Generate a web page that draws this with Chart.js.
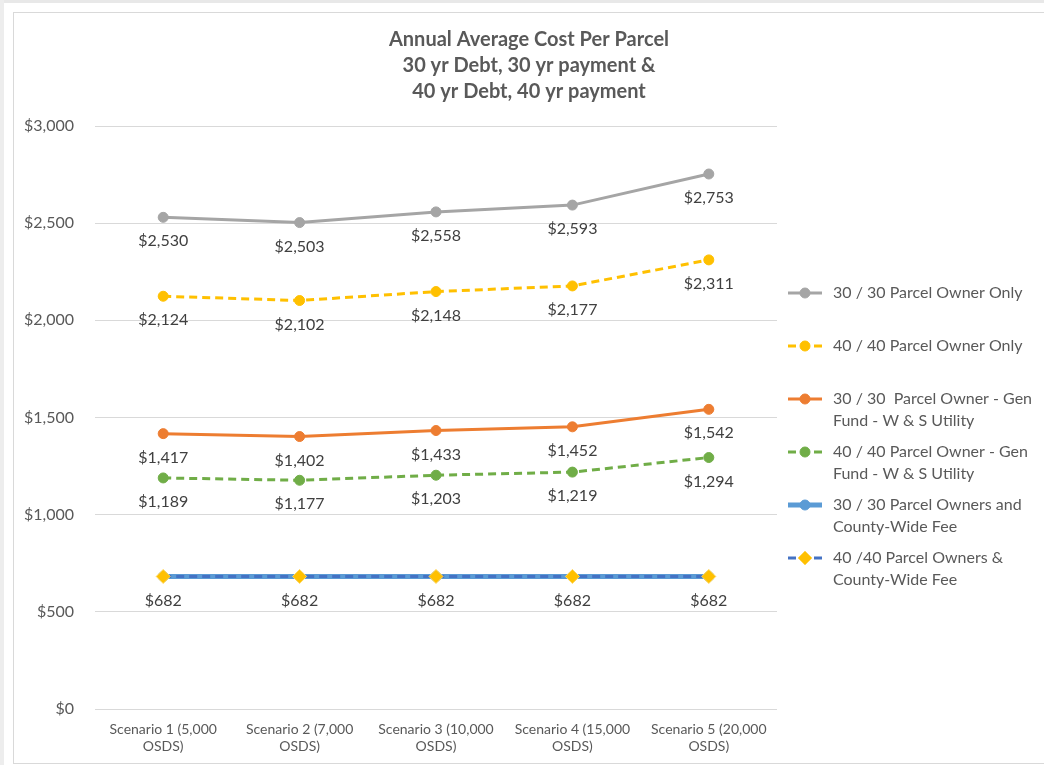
<!DOCTYPE html>
<html>
<head>
<meta charset="utf-8">
<title>Annual Average Cost Per Parcel</title>
<script src="https://cdn.jsdelivr.net/npm/chart.js@4.4.1/dist/chart.umd.min.js"></script>
<style>
    html, body { margin: 0; padding: 0; background: #fff; overflow: hidden; }
    .edge-top { position: absolute; left: 0; top: 0; width: 1044px; height: 3px; background: #e8e8e8; }
    .edge-left { position: absolute; left: 0; top: 0; width: 4px; height: 765px; background: #ededed; }
    #box {
        position: absolute; left: 13px; top: 12px;
        width: 1040px; height: 750px;
        border: 1px solid #d9d9d9; background: #fff;
    }
    #chart { display: block; }
</style>
</head>
<body>
<div class="edge-top"></div>
<div class="edge-left"></div>
<div id="box"><canvas id="chart" width="1030" height="750"></canvas></div>
<script>
const titleLines = ['Annual Average Cost Per Parcel', '30 yr Debt, 30 yr payment &', '40 yr Debt, 40 yr payment'];
const categories = [
    ['Scenario 1 (5,000', 'OSDS)'],
    ['Scenario 2 (7,000', 'OSDS)'],
    ['Scenario 3 (10,000', 'OSDS)'],
    ['Scenario 4 (15,000', 'OSDS)'],
    ['Scenario 5 (20,000', 'OSDS)']
];
const yTicks = [0, 500, 1000, 1500, 2000, 2500, 3000];

const ownerOnly30 = [2530, 2503, 2558, 2593, 2753];
const ownerOnly40 = [2124, 2102, 2148, 2177, 2311];
const genFund30 = [1417, 1402, 1433, 1452, 1542];
const genFund40 = [1189, 1177, 1203, 1219, 1294];
const countyFee30 = [682, 682, 682, 682, 682];
const countyFee40 = [682, 682, 682, 682, 682];

const seriesNames = [
    ['30 / 30 Parcel Owner Only'],
    ['40 / 40 Parcel Owner Only'],
    ['30 / 30  Parcel Owner - Gen', 'Fund - W & S Utility'],
    ['40 / 40 Parcel Owner - Gen', 'Fund - W & S Utility'],
    ['30 / 30 Parcel Owners and', 'County-Wide Fee'],
    ['40 /40 Parcel Owners &', 'County-Wide Fee']
];

const money = v => '$' + v.toLocaleString('en-US');

// build a dataset from a series + its look
const makeSeries = (idx, values, color, opts = {}) => ({
    label: seriesNames[idx].join(' '),
    data: values,
    borderColor: color,
    backgroundColor: color,
    borderWidth: opts.width || 3,
    borderDash: opts.dash || [],
    pointStyle: opts.pointStyle || 'circle',
    pointRadius: opts.radius || 5,
    pointHoverRadius: opts.radius || 5,
    pointBackgroundColor: opts.pointColor || color,
    pointBorderColor: opts.pointBorder || color,
    pointBorderWidth: 1,
    tension: 0,
    fill: false,
    order: opts.order || 0,
    showLabels: opts.showLabels !== false
});

// title centred over the whole chart (legend included)
const wideTitle = {
    id: 'wideTitle',
    afterDraw(chart) {
        const ctx = chart.ctx;
        ctx.save();
        ctx.font = 'bold 20px Lato';
        ctx.fillStyle = '#595959';
        ctx.textAlign = 'center';
        ctx.textBaseline = 'middle';
        titleLines.forEach((line, k) => ctx.fillText(line, chart.width / 2, 27 + k * 26));
        ctx.restore();
    }
};

// value labels under each point
const valueLabels = {
    id: 'valueLabels',
    afterDatasetsDraw(chart) {
        const ctx = chart.ctx;
        ctx.save();
        ctx.font = '16px Lato';
        ctx.fillStyle = '#404040';
        ctx.textAlign = 'center';
        ctx.textBaseline = 'middle';
        chart.data.datasets.forEach((ds, i) => {
            if (!ds.showLabels) return;
            chart.getDatasetMeta(i).data.forEach((pt, j) => {
                ctx.fillText(money(ds.data[j]), pt.x, pt.y + 24);
            });
        });
        ctx.restore();
    }
};

// legend on the right, with wrapped names
const sideLegend = {
    id: 'sideLegend',
    afterDraw(chart) {
        const ctx = chart.ctx;
        const x0 = chart.chartArea.right + 11;
        ctx.save();
        chart.data.datasets.forEach((ds, i) => {
            const y = 280 + i * 53;
            ctx.strokeStyle = ds.borderColor;
            ctx.lineWidth = ds.borderWidth;
            ctx.setLineDash(ds.borderDash);
            ctx.beginPath();
            ctx.moveTo(x0, y);
            ctx.lineTo(x0 + 34, y);
            ctx.stroke();
            ctx.setLineDash([]);
            ctx.fillStyle = ds.pointBackgroundColor;
            ctx.strokeStyle = ds.pointBorderColor;
            ctx.lineWidth = 1;
            ctx.beginPath();
            if (ds.pointStyle === 'rectRot') {
                ctx.moveTo(x0 + 17, y - 7); ctx.lineTo(x0 + 24, y);
                ctx.lineTo(x0 + 17, y + 7); ctx.lineTo(x0 + 10, y);
                ctx.closePath();
            } else {
                ctx.arc(x0 + 17, y, 5, 0, Math.PI * 2);
            }
            ctx.fill();
            ctx.stroke();

            ctx.font = '16px Lato';
            ctx.fillStyle = '#595959';
            ctx.textAlign = 'left';
            ctx.textBaseline = 'middle';
            seriesNames[i].forEach((line, k) => {
                ctx.fillText(line, x0 + 45, y + k * 22);
            });
        });
        ctx.restore();
    }
};

new Chart(document.getElementById('chart'), {
    type: 'line',
    data: {
        labels: categories,
        datasets: [
            makeSeries(0, ownerOnly30, '#a5a5a5'),
            makeSeries(1, ownerOnly40, '#ffc000', { dash: [8, 5] }),
            makeSeries(2, genFund30, '#ed7d31'),
            makeSeries(3, genFund40, '#70ad47', { dash: [8, 5] }),
            makeSeries(4, countyFee30, '#5b9bd5', { width: 5, order: 2, showLabels: false }),
            makeSeries(5, countyFee40, '#4472c4', {
                dash: [8, 5], pointStyle: 'rectRot', radius: 7,
                pointColor: '#ffc000', pointBorder: '#ffd75e', order: -1
            })
        ]
    },
    options: {
        responsive: false,
        animation: false,
        layout: { padding: { left: 0, right: 267, top: 113, bottom: 0 } },
        plugins: {
            legend: { display: false },
            tooltip: { enabled: false },
            title: { display: false }
        },
        scales: {
            x: {
                offset: true,
                grid: { display: false, drawTicks: false },
                border: { display: false },
                ticks: {
                    color: '#595959',
                    font: { family: 'Lato', size: 14, lineHeight: 17 / 14 },
                    padding: 12,
                    maxRotation: 0,
                    autoSkip: false
                },
                afterFit: scale => { scale.height = 54; }
            },
            y: {
                min: yTicks[0],
                max: yTicks[yTicks.length - 1],
                grid: { color: '#d9d9d9', lineWidth: 1, drawTicks: false },
                border: { display: false },
                ticks: {
                    stepSize: yTicks[1] - yTicks[0],
                    color: '#595959',
                    font: { family: 'Lato', size: 16 },
                    padding: 21,
                    callback: v => money(v)
                },
                afterFit: scale => { scale.width = 81; }
            }
        }
    },
    plugins: [wideTitle, valueLabels, sideLegend]
});
</script>
</body>
</html>
